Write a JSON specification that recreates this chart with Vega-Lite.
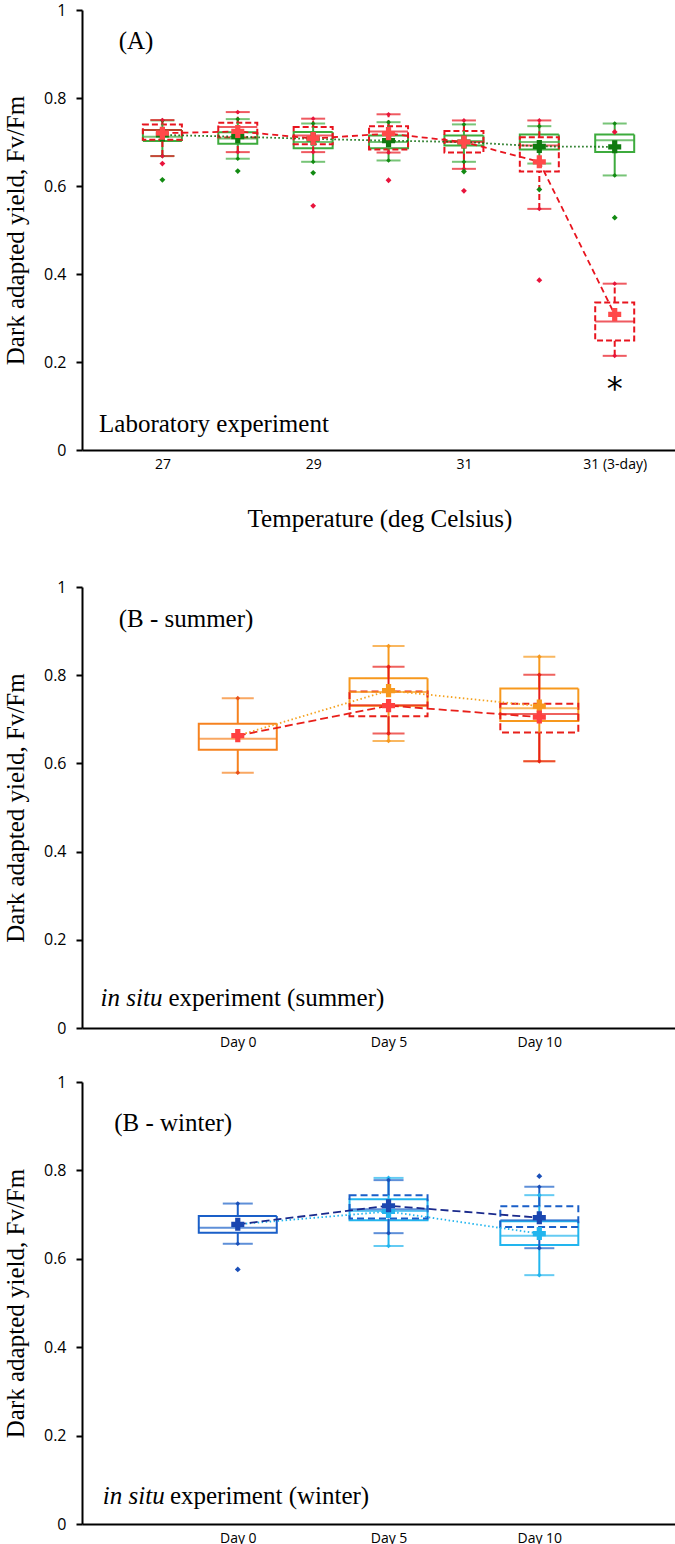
{
  "$schema": "https://vega.github.io/schema/vega-lite/v6.json",
  "padding": {"left": 3, "top": 2, "right": 0, "bottom": 0},
  "background": "white",
  "spacing": 48,
  "config": {
    "view": {"stroke": null},
    "axis": {"domainColor": "#000", "domainWidth": 2, "tickColor": "#000", "tickWidth": 2, "grid": false, "labelColor": "#000", "labelFont": "Open Sans", "titleFont": "Liberation Serif", "titleFontSize": 25, "titleFontWeight": "normal", "titleColor": "#000"},
    "axisY": {"tickSize": 6, "labelFontSize": 16, "labelPadding": 10, "titlePadding": 15},
    "axisX": {"ticks": false, "labelFontSize": 14, "labelPadding": 7}
  },
  "datasets": {
    "boxA": [
      {"pos": 1, "s": "c", "lo": 0.668, "q1": 0.702, "med": 0.712, "q3": 0.727, "hi": 0.749, "mean": 0.716},
      {"pos": 2, "s": "c", "lo": 0.662, "q1": 0.696, "med": 0.708, "q3": 0.722, "hi": 0.752, "mean": 0.712},
      {"pos": 3, "s": "c", "lo": 0.655, "q1": 0.686, "med": 0.7, "q3": 0.723, "hi": 0.742, "mean": 0.707},
      {"pos": 4, "s": "c", "lo": 0.658, "q1": 0.686, "med": 0.7, "q3": 0.715, "hi": 0.745, "mean": 0.703},
      {"pos": 5, "s": "c", "lo": 0.655, "q1": 0.692, "med": 0.702, "q3": 0.715, "hi": 0.74, "mean": 0.7},
      {"pos": 6, "s": "c", "lo": 0.651, "q1": 0.683, "med": 0.7, "q3": 0.717, "hi": 0.736, "mean": 0.69},
      {"pos": 7, "s": "c", "lo": 0.624, "q1": 0.677, "med": 0.704, "q3": 0.717, "hi": 0.742, "mean": 0.689},
      {"pos": 1, "s": "h", "lo": 0.668, "q1": 0.705, "med": 0.727, "q3": 0.74, "hi": 0.75, "mean": 0.72},
      {"pos": 2, "s": "h", "lo": 0.677, "q1": 0.71, "med": 0.734, "q3": 0.744, "hi": 0.768, "mean": 0.724},
      {"pos": 3, "s": "h", "lo": 0.677, "q1": 0.695, "med": 0.715, "q3": 0.734, "hi": 0.753, "mean": 0.708},
      {"pos": 4, "s": "h", "lo": 0.676, "q1": 0.683, "med": 0.724, "q3": 0.736, "hi": 0.763, "mean": 0.719},
      {"pos": 5, "s": "h", "lo": 0.639, "q1": 0.676, "med": 0.7, "q3": 0.725, "hi": 0.749, "mean": 0.7},
      {"pos": 6, "s": "h", "lo": 0.548, "q1": 0.633, "med": 0.692, "q3": 0.711, "hi": 0.749, "mean": 0.655},
      {"pos": 7, "s": "h", "lo": 0.214, "q1": 0.249, "med": 0.292, "q3": 0.335, "hi": 0.378, "mean": 0.308}
    ],
    "outA": [
      {"pos": 1, "s": "c", "v": 0.614}, {"pos": 2, "s": "c", "v": 0.634}, {"pos": 3, "s": "c", "v": 0.63},
      {"pos": 5, "s": "c", "v": 0.633}, {"pos": 6, "s": "c", "v": 0.592}, {"pos": 7, "s": "c", "v": 0.528},
      {"pos": 1, "s": "h", "v": 0.651}, {"pos": 3, "s": "h", "v": 0.555}, {"pos": 4, "s": "h", "v": 0.613},
      {"pos": 5, "s": "h", "v": 0.589}, {"pos": 6, "s": "h", "v": 0.386}, {"pos": 7, "s": "h", "v": 0.723}
    ],
    "boxS": [
      {"pos": 2, "s": "b", "lo": 0.579, "q1": 0.631, "med": 0.656, "q3": 0.69, "hi": 0.748, "mean": 0.663},
      {"pos": 4, "s": "c", "lo": 0.651, "q1": 0.731, "med": 0.762, "q3": 0.793, "hi": 0.866, "mean": 0.765},
      {"pos": 6, "s": "c", "lo": 0.605, "q1": 0.696, "med": 0.725, "q3": 0.77, "hi": 0.842, "mean": 0.73},
      {"pos": 4, "s": "h", "lo": 0.668, "q1": 0.707, "med": 0.732, "q3": 0.763, "hi": 0.819, "mean": 0.731},
      {"pos": 6, "s": "h", "lo": 0.605, "q1": 0.67, "med": 0.712, "q3": 0.735, "hi": 0.801, "mean": 0.705}
    ],
    "lineS": [
      {"pos": 2, "s": "c", "v": 0.663}, {"pos": 4, "s": "c", "v": 0.765}, {"pos": 6, "s": "c", "v": 0.73},
      {"pos": 2, "s": "h", "v": 0.663}, {"pos": 4, "s": "h", "v": 0.731}, {"pos": 6, "s": "h", "v": 0.705}
    ],
    "boxW": [
      {"pos": 2, "s": "b", "lo": 0.634, "q1": 0.659, "med": 0.67, "q3": 0.697, "hi": 0.725, "mean": 0.678},
      {"pos": 4, "s": "c", "lo": 0.629, "q1": 0.687, "med": 0.708, "q3": 0.735, "hi": 0.783, "mean": 0.707},
      {"pos": 6, "s": "c", "lo": 0.563, "q1": 0.631, "med": 0.652, "q3": 0.685, "hi": 0.744, "mean": 0.657},
      {"pos": 4, "s": "h", "lo": 0.658, "q1": 0.691, "med": 0.712, "q3": 0.744, "hi": 0.778, "mean": 0.72},
      {"pos": 6, "s": "h", "lo": 0.624, "q1": 0.672, "med": 0.687, "q3": 0.719, "hi": 0.763, "mean": 0.693}
    ],
    "outW": [
      {"pos": 2, "s": "b", "v": 0.576}, {"pos": 6, "s": "h", "v": 0.787}
    ],
    "lineW": [
      {"pos": 2, "s": "c", "v": 0.678}, {"pos": 4, "s": "c", "v": 0.707}, {"pos": 6, "s": "c", "v": 0.657},
      {"pos": 2, "s": "h", "v": 0.678}, {"pos": 4, "s": "h", "v": 0.72}, {"pos": 6, "s": "h", "v": 0.693}
    ],
    "notes": [
      {"p": "A", "k": "n", "pos": 0.42, "v": 0.93, "t": "(A)"},
      {"p": "A", "k": "n", "pos": 0.16, "v": 0.06, "t": "Laboratory experiment"},
      {"p": "A", "k": "star", "pos": 7, "v": 0.116, "t": "*"},
      {"p": "S", "k": "n", "pos": 0.42, "v": 0.927, "t": "(B - summer)"},
      {"p": "S", "k": "i", "pos": 0.18, "v": 0.069, "t": "in situ"},
      {"p": "S", "k": "n", "pos": 1.08, "v": 0.069, "t": "experiment (summer)"},
      {"p": "W", "k": "n", "pos": 0.36, "v": 0.908, "t": "(B - winter)"},
      {"p": "W", "k": "i", "pos": 0.21, "v": 0.063, "t": "in situ"},
      {"p": "W", "k": "n", "pos": 1.1, "v": 0.063, "t": "experiment (winter)"}
    ]
  },
  "vconcat": [
    {
      "width": 595, "height": 440,
      "resolve": {"scale": {"color": "independent", "strokeDash": "independent"}},
      "encoding": {"x": {"field": "pos", "type": "quantitative", "scale": {"domain": [0, 7.76]}, "axis": {"values": [1, 3, 5, 7], "labelExpr": "datum.value == 1 ? '27' : datum.value == 3 ? '29' : datum.value == 5 ? '31' : '31 (3-day)'", "title": "Temperature (deg Celsius)", "titlePadding": 35}}},
      "layer": [
        {"data": {"name": "boxA"}, "mark": {"type": "bar", "filled": false, "width": 39, "strokeWidth": 2},
         "encoding": {"y": {"field": "q1", "type": "quantitative", "scale": {"domain": [0, 1]}, "axis": {"title": "Dark adapted yield, Fv/Fm", "values": [0, 0.2, 0.4, 0.6, 0.8, 1], "format": "~g"}}, "y2": {"field": "q3"},
          "color": {"field": "s", "type": "nominal", "scale": {"domain": ["c", "h"], "range": ["#3dab3d", "#e8141e"]}, "legend": null},
          "strokeDash": {"field": "s", "type": "nominal", "scale": {"domain": ["c", "h"], "range": [[1, 0], [6, 3]]}, "legend": null}}},
        {"data": {"name": "boxA"}, "mark": {"type": "rule", "strokeWidth": 2},
         "encoding": {"y": {"field": "lo", "type": "quantitative", "scale": {"domain": [0, 1]}, "axis": {"title": "Dark adapted yield, Fv/Fm", "values": [0, 0.2, 0.4, 0.6, 0.8, 1], "format": "~g"}}, "y2": {"field": "q1"},
          "color": {"field": "s", "type": "nominal", "scale": {"domain": ["c", "h"], "range": ["#3dab3d", "#e8141e"]}, "legend": null},
          "strokeDash": {"field": "s", "type": "nominal", "scale": {"domain": ["c", "h"], "range": [[1, 0], [6, 3]]}, "legend": null}}},
        {"data": {"name": "boxA"}, "mark": {"type": "rule", "strokeWidth": 2},
         "encoding": {"y": {"field": "q3", "type": "quantitative", "scale": {"domain": [0, 1]}, "axis": {"title": "Dark adapted yield, Fv/Fm", "values": [0, 0.2, 0.4, 0.6, 0.8, 1], "format": "~g"}}, "y2": {"field": "hi"},
          "color": {"field": "s", "type": "nominal", "scale": {"domain": ["c", "h"], "range": ["#3dab3d", "#e8141e"]}, "legend": null},
          "strokeDash": {"field": "s", "type": "nominal", "scale": {"domain": ["c", "h"], "range": [[1, 0], [6, 3]]}, "legend": null}}},
        {"data": {"name": "boxA"}, "mark": {"type": "tick", "orient": "horizontal", "size": 24, "thickness": 2},
         "encoding": {"y": {"field": "lo", "type": "quantitative", "scale": {"domain": [0, 1]}, "axis": {"title": "Dark adapted yield, Fv/Fm", "values": [0, 0.2, 0.4, 0.6, 0.8, 1], "format": "~g"}},
          "color": {"field": "s", "type": "nominal", "scale": {"domain": ["c", "h"], "range": ["#3dab3d", "#e8141e"]}, "legend": null}}},
        {"data": {"name": "boxA"}, "mark": {"type": "tick", "orient": "horizontal", "size": 24, "thickness": 2},
         "encoding": {"y": {"field": "hi", "type": "quantitative", "scale": {"domain": [0, 1]}, "axis": {"title": "Dark adapted yield, Fv/Fm", "values": [0, 0.2, 0.4, 0.6, 0.8, 1], "format": "~g"}},
          "color": {"field": "s", "type": "nominal", "scale": {"domain": ["c", "h"], "range": ["#3dab3d", "#e8141e"]}, "legend": null}}},
        {"data": {"name": "boxA"}, "mark": {"type": "tick", "orient": "horizontal", "size": 39, "thickness": 2},
         "encoding": {"y": {"field": "med", "type": "quantitative", "scale": {"domain": [0, 1]}, "axis": {"title": "Dark adapted yield, Fv/Fm", "values": [0, 0.2, 0.4, 0.6, 0.8, 1], "format": "~g"}},
          "color": {"field": "s", "type": "nominal", "scale": {"domain": ["c", "h"], "range": ["#3dab3d", "#e8141e"]}, "legend": null}}},
        {"data": {"name": "boxA"}, "mark": {"type": "line", "strokeWidth": 1.8},
         "encoding": {"y": {"field": "mean", "type": "quantitative", "scale": {"domain": [0, 1]}, "axis": {"title": "Dark adapted yield, Fv/Fm", "values": [0, 0.2, 0.4, 0.6, 0.8, 1], "format": "~g"}},
          "color": {"field": "s", "type": "nominal", "scale": {"domain": ["c", "h"], "range": ["#0d6b0d", "#e8141e"]}, "legend": null},
          "strokeDash": {"field": "s", "type": "nominal", "scale": {"domain": ["c", "h"], "range": [[1.5, 2.5], [6, 4]]}, "legend": null}}},
        {"data": {"name": "boxA"}, "mark": {"type": "point", "shape": "diamond", "filled": true, "size": 22, "opacity": 1},
         "encoding": {"y": {"field": "hi", "type": "quantitative", "scale": {"domain": [0, 1]}, "axis": {"title": "Dark adapted yield, Fv/Fm", "values": [0, 0.2, 0.4, 0.6, 0.8, 1], "format": "~g"}},
          "color": {"field": "s", "type": "nominal", "scale": {"domain": ["c", "h"], "range": ["#128a12", "#e8143c"]}, "legend": null}}},
        {"data": {"name": "boxA"}, "mark": {"type": "point", "shape": "diamond", "filled": true, "size": 22, "opacity": 1},
         "encoding": {"y": {"field": "lo", "type": "quantitative", "scale": {"domain": [0, 1]}, "axis": {"title": "Dark adapted yield, Fv/Fm", "values": [0, 0.2, 0.4, 0.6, 0.8, 1], "format": "~g"}},
          "color": {"field": "s", "type": "nominal", "scale": {"domain": ["c", "h"], "range": ["#128a12", "#e8143c"]}, "legend": null}}},
        {"data": {"name": "outA"}, "mark": {"type": "point", "shape": "diamond", "filled": true, "size": 34, "opacity": 1},
         "encoding": {"y": {"field": "v", "type": "quantitative", "scale": {"domain": [0, 1]}, "axis": {"title": "Dark adapted yield, Fv/Fm", "values": [0, 0.2, 0.4, 0.6, 0.8, 1], "format": "~g"}},
          "color": {"field": "s", "type": "nominal", "scale": {"domain": ["c", "h"], "range": ["#128a12", "#e8143c"]}, "legend": null}}},
        {"data": {"name": "boxA"}, "mark": {"type": "point", "shape": "cross", "filled": true, "size": 170, "opacity": 1},
         "encoding": {"y": {"field": "mean", "type": "quantitative", "scale": {"domain": [0, 1]}, "axis": {"title": "Dark adapted yield, Fv/Fm", "values": [0, 0.2, 0.4, 0.6, 0.8, 1], "format": "~g"}},
          "color": {"field": "s", "type": "nominal", "scale": {"domain": ["c", "h"], "range": ["#0f7a0f", "#ff4a4a"]}, "legend": null}}},
        {"data": {"name": "notes"}, "transform": [{"filter": "datum.p == 'A' && datum.k == 'n'"}],
         "mark": {"type": "text", "font": "Liberation Serif", "fontSize": 25, "align": "left", "baseline": "middle", "color": "#000"},
         "encoding": {"y": {"field": "v", "type": "quantitative", "scale": {"domain": [0, 1]}, "axis": {"title": "Dark adapted yield, Fv/Fm", "values": [0, 0.2, 0.4, 0.6, 0.8, 1], "format": "~g"}}, "text": {"field": "t"}}},
        {"data": {"name": "notes"}, "transform": [{"filter": "datum.p == 'A' && datum.k == 'star'"}],
         "mark": {"type": "text", "font": "DejaVu Sans", "fontSize": 32, "align": "center", "baseline": "alphabetic", "color": "#000"},
         "encoding": {"y": {"field": "v", "type": "quantitative", "scale": {"domain": [0, 1]}, "axis": {"title": "Dark adapted yield, Fv/Fm", "values": [0, 0.2, 0.4, 0.6, 0.8, 1], "format": "~g"}}, "text": {"field": "t"}}}
      ]
    },
    {
      "spacing": 25,
      "vconcat": [
        {
          "width": 595, "height": 441,
          "resolve": {"scale": {"color": "independent", "strokeDash": "independent"}},
          "encoding": {"x": {"field": "pos", "type": "quantitative", "scale": {"domain": [0, 7.76]}, "axis": {"values": [2, 4, 6], "labelExpr": "datum.value == 2 ? 'Day 0' : datum.value == 4 ? 'Day 5' : 'Day 10'", "title": null}}},
          "layer": [
            {"data": {"name": "boxS"}, "mark": {"type": "bar", "filled": false, "width": 78, "strokeWidth": 2},
             "encoding": {"y": {"field": "q1", "type": "quantitative", "scale": {"domain": [0, 1]}, "axis": {"title": "Dark adapted yield, Fv/Fm", "values": [0, 0.2, 0.4, 0.6, 0.8, 1], "format": "~g"}}, "y2": {"field": "q3"},
              "color": {"field": "s", "type": "nominal", "scale": {"domain": ["b", "c", "h"], "range": ["#f6821f", "#f7981d", "#e8201a"]}, "legend": null},
              "strokeDash": {"field": "s", "type": "nominal", "scale": {"domain": ["b", "c", "h"], "range": [[1, 0], [1, 0], [7, 4]]}, "legend": null}}},
            {"data": {"name": "boxS"}, "mark": {"type": "rule", "strokeWidth": 2},
             "encoding": {"y": {"field": "lo", "type": "quantitative", "scale": {"domain": [0, 1]}, "axis": {"title": "Dark adapted yield, Fv/Fm", "values": [0, 0.2, 0.4, 0.6, 0.8, 1], "format": "~g"}}, "y2": {"field": "q1"},
              "color": {"field": "s", "type": "nominal", "scale": {"domain": ["b", "c", "h"], "range": ["#f6821f", "#f7981d", "#e8201a"]}, "legend": null}}},
            {"data": {"name": "boxS"}, "mark": {"type": "rule", "strokeWidth": 2},
             "encoding": {"y": {"field": "q3", "type": "quantitative", "scale": {"domain": [0, 1]}, "axis": {"title": "Dark adapted yield, Fv/Fm", "values": [0, 0.2, 0.4, 0.6, 0.8, 1], "format": "~g"}}, "y2": {"field": "hi"},
              "color": {"field": "s", "type": "nominal", "scale": {"domain": ["b", "c", "h"], "range": ["#f6821f", "#f7981d", "#e8201a"]}, "legend": null}}},
            {"data": {"name": "boxS"}, "mark": {"type": "tick", "orient": "horizontal", "size": 32, "thickness": 2},
             "encoding": {"y": {"field": "lo", "type": "quantitative", "scale": {"domain": [0, 1]}, "axis": {"title": "Dark adapted yield, Fv/Fm", "values": [0, 0.2, 0.4, 0.6, 0.8, 1], "format": "~g"}},
              "color": {"field": "s", "type": "nominal", "scale": {"domain": ["b", "c", "h"], "range": ["#f6821f", "#f7981d", "#e8201a"]}, "legend": null}}},
            {"data": {"name": "boxS"}, "mark": {"type": "tick", "orient": "horizontal", "size": 32, "thickness": 2},
             "encoding": {"y": {"field": "hi", "type": "quantitative", "scale": {"domain": [0, 1]}, "axis": {"title": "Dark adapted yield, Fv/Fm", "values": [0, 0.2, 0.4, 0.6, 0.8, 1], "format": "~g"}},
              "color": {"field": "s", "type": "nominal", "scale": {"domain": ["b", "c", "h"], "range": ["#f6821f", "#f7981d", "#e8201a"]}, "legend": null}}},
            {"data": {"name": "boxS"}, "mark": {"type": "tick", "orient": "horizontal", "size": 78, "thickness": 2},
             "encoding": {"y": {"field": "med", "type": "quantitative", "scale": {"domain": [0, 1]}, "axis": {"title": "Dark adapted yield, Fv/Fm", "values": [0, 0.2, 0.4, 0.6, 0.8, 1], "format": "~g"}},
              "color": {"field": "s", "type": "nominal", "scale": {"domain": ["b", "c", "h"], "range": ["#f6821f", "#f7981d", "#e8201a"]}, "legend": null}}},
            {"data": {"name": "lineS"}, "mark": {"type": "line", "strokeWidth": 1.8},
             "encoding": {"y": {"field": "v", "type": "quantitative", "scale": {"domain": [0, 1]}, "axis": {"title": "Dark adapted yield, Fv/Fm", "values": [0, 0.2, 0.4, 0.6, 0.8, 1], "format": "~g"}},
              "color": {"field": "s", "type": "nominal", "scale": {"domain": ["c", "h"], "range": ["#f5a21f", "#e8201a"]}, "legend": null},
              "strokeDash": {"field": "s", "type": "nominal", "scale": {"domain": ["c", "h"], "range": [[1.5, 2.5], [8, 4]]}, "legend": null}}},
            {"data": {"name": "boxS"}, "mark": {"type": "point", "shape": "diamond", "filled": true, "size": 22, "opacity": 1},
             "encoding": {"y": {"field": "hi", "type": "quantitative", "scale": {"domain": [0, 1]}, "axis": {"title": "Dark adapted yield, Fv/Fm", "values": [0, 0.2, 0.4, 0.6, 0.8, 1], "format": "~g"}},
              "color": {"field": "s", "type": "nominal", "scale": {"domain": ["b", "c", "h"], "range": ["#e8501a", "#f7981d", "#e8201a"]}, "legend": null}}},
            {"data": {"name": "boxS"}, "mark": {"type": "point", "shape": "diamond", "filled": true, "size": 22, "opacity": 1},
             "encoding": {"y": {"field": "lo", "type": "quantitative", "scale": {"domain": [0, 1]}, "axis": {"title": "Dark adapted yield, Fv/Fm", "values": [0, 0.2, 0.4, 0.6, 0.8, 1], "format": "~g"}},
              "color": {"field": "s", "type": "nominal", "scale": {"domain": ["b", "c", "h"], "range": ["#e8501a", "#f7981d", "#e8201a"]}, "legend": null}}},
            {"data": {"name": "boxS"}, "mark": {"type": "point", "shape": "cross", "filled": true, "size": 170, "opacity": 1},
             "encoding": {"y": {"field": "mean", "type": "quantitative", "scale": {"domain": [0, 1]}, "axis": {"title": "Dark adapted yield, Fv/Fm", "values": [0, 0.2, 0.4, 0.6, 0.8, 1], "format": "~g"}},
              "color": {"field": "s", "type": "nominal", "scale": {"domain": ["b", "c", "h"], "range": ["#ff4040", "#f7981d", "#ff4040"]}, "legend": null}}},
            {"data": {"name": "notes"}, "transform": [{"filter": "datum.p == 'S' && datum.k == 'n'"}],
             "mark": {"type": "text", "font": "Liberation Serif", "fontSize": 25, "align": "left", "baseline": "middle", "color": "#000"},
             "encoding": {"y": {"field": "v", "type": "quantitative", "scale": {"domain": [0, 1]}, "axis": {"title": "Dark adapted yield, Fv/Fm", "values": [0, 0.2, 0.4, 0.6, 0.8, 1], "format": "~g"}}, "text": {"field": "t"}}},
            {"data": {"name": "notes"}, "transform": [{"filter": "datum.p == 'S' && datum.k == 'i'"}],
             "mark": {"type": "text", "font": "Liberation Serif", "fontStyle": "italic", "fontSize": 25, "align": "left", "baseline": "middle", "color": "#000"},
             "encoding": {"y": {"field": "v", "type": "quantitative", "scale": {"domain": [0, 1]}, "axis": {"title": "Dark adapted yield, Fv/Fm", "values": [0, 0.2, 0.4, 0.6, 0.8, 1], "format": "~g"}}, "text": {"field": "t"}}}
          ]
        },
        {
          "width": 595, "height": 442,
          "resolve": {"scale": {"color": "independent", "strokeDash": "independent"}},
          "encoding": {"x": {"field": "pos", "type": "quantitative", "scale": {"domain": [0, 7.76]}, "axis": {"values": [2, 4, 6], "labelExpr": "datum.value == 2 ? 'Day 0' : datum.value == 4 ? 'Day 5' : 'Day 10'", "title": null}}},
          "layer": [
            {"data": {"name": "boxW"}, "mark": {"type": "bar", "filled": false, "width": 78, "strokeWidth": 2},
             "encoding": {"y": {"field": "q1", "type": "quantitative", "scale": {"domain": [0, 1]}, "axis": {"title": "Dark adapted yield, Fv/Fm", "values": [0, 0.2, 0.4, 0.6, 0.8, 1], "format": "~g"}}, "y2": {"field": "q3"},
              "color": {"field": "s", "type": "nominal", "scale": {"domain": ["b", "c", "h"], "range": ["#1a5fc8", "#22b5ee", "#1a5fc8"]}, "legend": null},
              "strokeDash": {"field": "s", "type": "nominal", "scale": {"domain": ["b", "c", "h"], "range": [[1, 0], [1, 0], [7, 4]]}, "legend": null}}},
            {"data": {"name": "boxW"}, "mark": {"type": "rule", "strokeWidth": 2},
             "encoding": {"y": {"field": "lo", "type": "quantitative", "scale": {"domain": [0, 1]}, "axis": {"title": "Dark adapted yield, Fv/Fm", "values": [0, 0.2, 0.4, 0.6, 0.8, 1], "format": "~g"}}, "y2": {"field": "q1"},
              "color": {"field": "s", "type": "nominal", "scale": {"domain": ["b", "c", "h"], "range": ["#1a5fc8", "#22b5ee", "#1a5fc8"]}, "legend": null}}},
            {"data": {"name": "boxW"}, "mark": {"type": "rule", "strokeWidth": 2},
             "encoding": {"y": {"field": "q3", "type": "quantitative", "scale": {"domain": [0, 1]}, "axis": {"title": "Dark adapted yield, Fv/Fm", "values": [0, 0.2, 0.4, 0.6, 0.8, 1], "format": "~g"}}, "y2": {"field": "hi"},
              "color": {"field": "s", "type": "nominal", "scale": {"domain": ["b", "c", "h"], "range": ["#1a5fc8", "#22b5ee", "#1a5fc8"]}, "legend": null}}},
            {"data": {"name": "boxW"}, "mark": {"type": "tick", "orient": "horizontal", "size": 30, "thickness": 2},
             "encoding": {"y": {"field": "lo", "type": "quantitative", "scale": {"domain": [0, 1]}, "axis": {"title": "Dark adapted yield, Fv/Fm", "values": [0, 0.2, 0.4, 0.6, 0.8, 1], "format": "~g"}},
              "color": {"field": "s", "type": "nominal", "scale": {"domain": ["b", "c", "h"], "range": ["#1a5fc8", "#22b5ee", "#1a5fc8"]}, "legend": null}}},
            {"data": {"name": "boxW"}, "mark": {"type": "tick", "orient": "horizontal", "size": 30, "thickness": 2},
             "encoding": {"y": {"field": "hi", "type": "quantitative", "scale": {"domain": [0, 1]}, "axis": {"title": "Dark adapted yield, Fv/Fm", "values": [0, 0.2, 0.4, 0.6, 0.8, 1], "format": "~g"}},
              "color": {"field": "s", "type": "nominal", "scale": {"domain": ["b", "c", "h"], "range": ["#1a5fc8", "#22b5ee", "#1a5fc8"]}, "legend": null}}},
            {"data": {"name": "boxW"}, "mark": {"type": "tick", "orient": "horizontal", "size": 78, "thickness": 2},
             "encoding": {"y": {"field": "med", "type": "quantitative", "scale": {"domain": [0, 1]}, "axis": {"title": "Dark adapted yield, Fv/Fm", "values": [0, 0.2, 0.4, 0.6, 0.8, 1], "format": "~g"}},
              "color": {"field": "s", "type": "nominal", "scale": {"domain": ["b", "c", "h"], "range": ["#1a5fc8", "#22b5ee", "#1a5fc8"]}, "legend": null}}},
            {"data": {"name": "lineW"}, "mark": {"type": "line", "strokeWidth": 1.8},
             "encoding": {"y": {"field": "v", "type": "quantitative", "scale": {"domain": [0, 1]}, "axis": {"title": "Dark adapted yield, Fv/Fm", "values": [0, 0.2, 0.4, 0.6, 0.8, 1], "format": "~g"}},
              "color": {"field": "s", "type": "nominal", "scale": {"domain": ["c", "h"], "range": ["#22b5ee", "#1a2a8c"]}, "legend": null},
              "strokeDash": {"field": "s", "type": "nominal", "scale": {"domain": ["c", "h"], "range": [[1.5, 2.5], [8, 4]]}, "legend": null}}},
            {"data": {"name": "boxW"}, "mark": {"type": "point", "shape": "diamond", "filled": true, "size": 22, "opacity": 1},
             "encoding": {"y": {"field": "hi", "type": "quantitative", "scale": {"domain": [0, 1]}, "axis": {"title": "Dark adapted yield, Fv/Fm", "values": [0, 0.2, 0.4, 0.6, 0.8, 1], "format": "~g"}},
              "color": {"field": "s", "type": "nominal", "scale": {"domain": ["b", "c", "h"], "range": ["#1a4fb8", "#22b5ee", "#1a4fb8"]}, "legend": null}}},
            {"data": {"name": "boxW"}, "mark": {"type": "point", "shape": "diamond", "filled": true, "size": 22, "opacity": 1},
             "encoding": {"y": {"field": "lo", "type": "quantitative", "scale": {"domain": [0, 1]}, "axis": {"title": "Dark adapted yield, Fv/Fm", "values": [0, 0.2, 0.4, 0.6, 0.8, 1], "format": "~g"}},
              "color": {"field": "s", "type": "nominal", "scale": {"domain": ["b", "c", "h"], "range": ["#1a4fb8", "#22b5ee", "#1a4fb8"]}, "legend": null}}},
            {"data": {"name": "outW"}, "mark": {"type": "point", "shape": "diamond", "filled": true, "size": 34, "opacity": 1},
             "encoding": {"y": {"field": "v", "type": "quantitative", "scale": {"domain": [0, 1]}, "axis": {"title": "Dark adapted yield, Fv/Fm", "values": [0, 0.2, 0.4, 0.6, 0.8, 1], "format": "~g"}},
              "color": {"field": "s", "type": "nominal", "scale": {"domain": ["b", "c", "h"], "range": ["#1a4fb8", "#22b5ee", "#1a4fb8"]}, "legend": null}}},
            {"data": {"name": "boxW"}, "mark": {"type": "point", "shape": "cross", "filled": true, "size": 170, "opacity": 1},
             "encoding": {"y": {"field": "mean", "type": "quantitative", "scale": {"domain": [0, 1]}, "axis": {"title": "Dark adapted yield, Fv/Fm", "values": [0, 0.2, 0.4, 0.6, 0.8, 1], "format": "~g"}},
              "color": {"field": "s", "type": "nominal", "scale": {"domain": ["b", "c", "h"], "range": ["#1a46b0", "#22b5ee", "#1a46b0"]}, "legend": null}}},
            {"data": {"name": "notes"}, "transform": [{"filter": "datum.p == 'W' && datum.k == 'n'"}],
             "mark": {"type": "text", "font": "Liberation Serif", "fontSize": 25, "align": "left", "baseline": "middle", "color": "#000"},
             "encoding": {"y": {"field": "v", "type": "quantitative", "scale": {"domain": [0, 1]}, "axis": {"title": "Dark adapted yield, Fv/Fm", "values": [0, 0.2, 0.4, 0.6, 0.8, 1], "format": "~g"}}, "text": {"field": "t"}}},
            {"data": {"name": "notes"}, "transform": [{"filter": "datum.p == 'W' && datum.k == 'i'"}],
             "mark": {"type": "text", "font": "Liberation Serif", "fontStyle": "italic", "fontSize": 25, "align": "left", "baseline": "middle", "color": "#000"},
             "encoding": {"y": {"field": "v", "type": "quantitative", "scale": {"domain": [0, 1]}, "axis": {"title": "Dark adapted yield, Fv/Fm", "values": [0, 0.2, 0.4, 0.6, 0.8, 1], "format": "~g"}}, "text": {"field": "t"}}}
          ]
        }
      ]
    }
  ]
}
